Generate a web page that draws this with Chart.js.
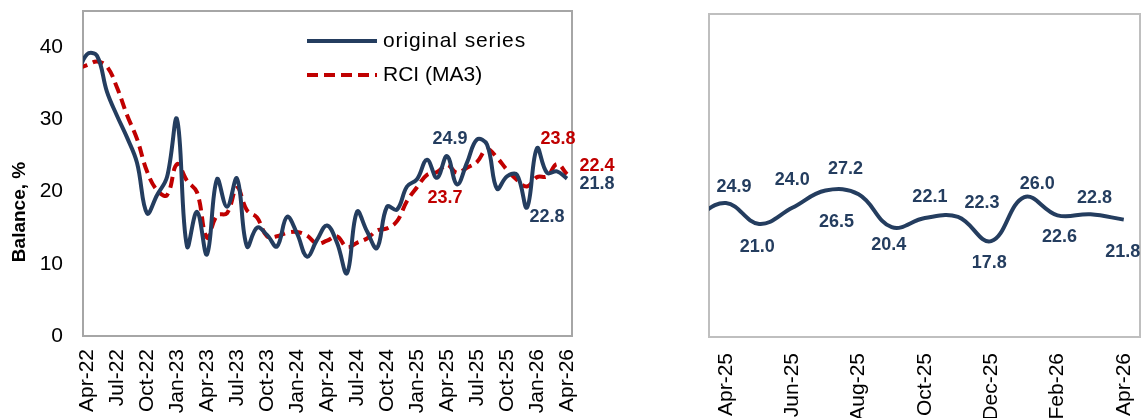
<!DOCTYPE html>
<html>
<head>
<meta charset="utf-8">
<script src="https://cdn.jsdelivr.net/npm/chart.js@4.4.1/dist/chart.umd.min.js"></script>
<style>
  html, body { margin: 0; padding: 0; background: #fff; }
  #wrap { position: relative; width: 1142px; height: 418px; overflow: hidden; }
  .box { position: absolute; top: 0; height: 418px; }
</style>
</head>
<body>
<div id="wrap">
  <div class="box" style="left:0;width:620px"><canvas id="leftChart" width="620" height="418"></canvas></div>
  <div class="box" style="left:620px;width:522px"><canvas id="rightChart" width="522" height="418"></canvas></div>
</div>
<script>
// months from Mar-22 (partly outside the axis) to Apr-26
const months = [
  'Mar-22','Apr-22','May-22','Jun-22','Jul-22','Aug-22','Sep-22','Oct-22','Nov-22','Dec-22',
  'Jan-23','Feb-23','Mar-23','Apr-23','May-23','Jun-23','Jul-23','Aug-23','Sep-23','Oct-23','Nov-23','Dec-23',
  'Jan-24','Feb-24','Mar-24','Apr-24','May-24','Jun-24','Jul-24','Aug-24','Sep-24','Oct-24','Nov-24','Dec-24',
  'Jan-25','Feb-25','Mar-25','Apr-25','May-25','Jun-25','Jul-25','Aug-25','Sep-25','Oct-25','Nov-25','Dec-25',
  'Jan-26','Feb-26','Mar-26','Apr-26'
];

const originalSeries = [
  36.0, 39.0, 38.8, 33.8, 30.5, 27.5, 24.0, 17.0, 19.5, 22.0,
  30.0, 12.4, 17.2, 11.3, 21.7, 17.9, 21.8, 12.4, 15.0, 14.0, 12.4, 16.5,
  14.2, 11.0, 13.3, 15.3, 12.9, 8.7, 17.2, 14.5, 12.2, 17.9, 17.5, 20.7,
  21.7, 24.4, 21.9, 24.9, 21.0, 24.0, 27.2, 26.5, 20.4, 22.1, 22.3, 17.8,
  26.0, 22.6, 22.8, 21.8
];

const rciMA3 = [
  37.0, 37.5, 38.0, 37.3, 34.4, 30.6, 27.3, 22.8, 20.2, 19.5,
  23.8, 21.5, 19.9, 13.6, 16.7, 17.0, 20.5, 17.4, 16.4, 13.8, 13.8, 14.3,
  14.4, 13.9, 12.8, 13.2, 13.8, 12.3, 12.9, 13.5, 14.6, 14.9, 15.9, 18.7,
  20.6, 22.3, 22.7, 23.7, 22.6, 23.3, 24.1, 25.9, 24.7, 23.0, 21.6, 20.7,
  22.0, 22.1, 23.8, 22.4
];

const yTicksLeft = [0, 10, 20, 30, 40];
const xTicksLeft = ['Apr-22','Jul-22','Oct-22','Jan-23','Apr-23','Jul-23','Oct-23','Jan-24','Apr-24',
                    'Jul-24','Oct-24','Jan-25','Apr-25','Jul-25','Oct-25','Jan-26','Apr-26'];

// right panel: Mar-25 (cut at the edge) to Apr-26
const recentMonths = months.slice(36);
const recentValues = originalSeries.slice(36);
const xTicksRight = ['Apr-25','Jun-25','Aug-25','Oct-25','Dec-25','Feb-26','Apr-26'];

const BLUE = '#243d5f';
const RED = '#c00000';
const FONT = "'Liberation Sans', Arial, sans-serif";
Chart.defaults.font.family = FONT;
Chart.defaults.color = '#000';

// x position: Apr-22 = 0 on the left chart, Apr-25 = 0 on the right chart
const toPoints = (arr) => arr.map((v, i) => ({ x: i - 1, y: v }));
const tickIndex = (list, names) => names.map(n => list.indexOf(n) - 1);
const noPad = s => { s.paddingLeft = 0; s.paddingRight = 0; s.paddingTop = 0; s.paddingBottom = 0; };

const framePlugin = {
  id: 'frame',
  beforeDatasetsDraw(chart, args, opts) {
    const a = chart.chartArea, c = chart.ctx;
    c.save();
    c.strokeStyle = opts.color;
    c.lineWidth = 2;
    c.strokeRect(a.left, a.top, a.right - a.left, a.bottom - a.top);
    c.restore();
  }
};

const labelPlugin = {
  id: 'pointLabels',
  afterDatasetsDraw(chart, args, opts) {
    const c = chart.ctx;
    c.save();
    c.font = 'bold 18px ' + FONT;
    c.textAlign = 'center';
    c.textBaseline = 'middle';
    (opts.items || []).forEach(it => {
      const pt = chart.getDatasetMeta(it.ds).data[it.i];
      const val = chart.data.datasets[it.ds].data[it.i].y;
      c.fillStyle = it.color;
      c.fillText(val.toFixed(1), pt.x + it.dx, pt.y + it.dy);
    });
    c.restore();
  }
};

const legendPlugin = {
  id: 'insideLegend',
  afterDraw(chart) {
    const a = chart.chartArea, c = chart.ctx;
    const x0 = a.left + 224, y0 = a.top + 30, gap = 34;
    c.save();
    c.lineWidth = 4;
    c.strokeStyle = BLUE;
    c.beginPath(); c.moveTo(x0, y0); c.lineTo(x0 + 70, y0); c.stroke();
    c.strokeStyle = RED;
    c.setLineDash([11, 6]);
    c.beginPath(); c.moveTo(x0, y0 + gap); c.lineTo(x0 + 70, y0 + gap); c.stroke();
    c.setLineDash([]);
    c.fillStyle = '#000';
    c.font = '21px ' + FONT;
    c.textBaseline = 'middle';
    c.letterSpacing = '0.9px';
    c.fillText('original series', x0 + 76, y0);
    c.letterSpacing = '0px';
    c.fillText('RCI (MA3)', x0 + 76, y0 + gap);
    // y axis title
    c.font = 'bold 19px ' + FONT;
    c.textAlign = 'center';
    c.translate(20, a.top + 201);
    c.rotate(-Math.PI / 2);
    c.fillText('Balance, %', 0, 0);
    c.restore();
  }
};

const leftTickVals = tickIndex(months, xTicksLeft);

new Chart(document.getElementById('leftChart'), {
  type: 'line',
  data: {
    datasets: [
      { label: 'original series', data: toPoints(originalSeries), borderColor: BLUE, borderWidth: 4,
        pointRadius: 0, tension: 0.4, fill: false },
      { label: 'RCI (MA3)', data: toPoints(rciMA3), borderColor: RED, borderWidth: 4, borderDash: [11, 6],
        pointRadius: 0, tension: 0.4, fill: false }
    ]
  },
  plugins: [framePlugin, labelPlugin, legendPlugin],
  options: {
    responsive: false,
    animation: false,
    layout: { padding: { top: 11, right: 48, left: 0, bottom: 0 } },
    plugins: {
      legend: { display: false },
      tooltip: { enabled: false },
      frame: { color: '#a6a6a6' },
      pointLabels: {
        items: [
          { ds: 0, i: 37, dx: 3, dy: -17, color: BLUE },
          { ds: 0, i: 48, dx: -10, dy: 46, color: BLUE },
          { ds: 0, i: 49, dx: 30, dy: 5, color: BLUE },
          { ds: 1, i: 37, dx: -2, dy: 33, color: RED },
          { ds: 1, i: 48, dx: 1, dy: -25, color: RED },
          { ds: 1, i: 49, dx: 30, dy: -8, color: RED }
        ]
      }
    },
    scales: {
      x: {
        type: 'linear', min: -0.4, max: 48.5,
        afterBuildTicks: s => { s.ticks = leftTickVals.map(v => ({ value: v })); },
        afterFit: s => { s.height = 82; noPad(s); },
        grid: { display: false, drawTicks: false },
        border: { display: false },
        ticks: {
          autoSkip: false, minRotation: 90, maxRotation: 90, padding: 13,
          font: { size: 21 }, color: '#000',
          callback: v => months[v + 1]
        }
      },
      y: {
        min: 0, max: 45,
        afterBuildTicks: s => { s.ticks = yTicksLeft.map(v => ({ value: v })); },
        afterFit: s => { s.width = 83; noPad(s); },
        grid: { display: false, drawTicks: false },
        border: { display: false },
        ticks: { padding: 20, font: { size: 21 }, color: '#000' }
      }
    }
  }
});

const rightTickVals = tickIndex(recentMonths, xTicksRight);
// label offsets for Apr-25 .. Apr-26
const rightLabelDx = [8, -2, 0, 20, -22, -3, 5, 24, -2, 13, 2, 4, -1];
const rightLabelDy = [-16, 23, -28, -22, 28, 18, -21, -14, 22, -13, 22, -16, 32];

new Chart(document.getElementById('rightChart'), {
  type: 'line',
  data: {
    datasets: [
      { label: 'original series', data: toPoints(recentValues), borderColor: BLUE, borderWidth: 4,
        pointRadius: 0, tension: 0.4, fill: false }
    ]
  },
  plugins: [framePlugin, labelPlugin],
  options: {
    responsive: false,
    animation: false,
    layout: { padding: { top: 14, right: 2, left: 89, bottom: 0 } },
    plugins: {
      legend: { display: false },
      tooltip: { enabled: false },
      frame: { color: '#bfbfbf' },
      pointLabels: {
        items: rightLabelDx.map((dx, k) => ({ ds: 0, i: k + 1, dx: dx, dy: rightLabelDy[k], color: BLUE }))
      }
    },
    scales: {
      x: {
        type: 'linear', min: -0.513, max: 12.49,
        afterBuildTicks: s => { s.ticks = rightTickVals.map(v => ({ value: v })); },
        afterFit: s => { s.height = 81; noPad(s); },
        grid: { display: false, drawTicks: false },
        border: { display: false },
        ticks: {
          autoSkip: false, minRotation: 90, maxRotation: 90, padding: 16,
          font: { size: 21 }, color: '#000',
          callback: v => recentMonths[v + 1]
        }
      },
      y: { display: false, min: 0, max: 60 }
    }
  }
});
</script>
</body>
</html>
